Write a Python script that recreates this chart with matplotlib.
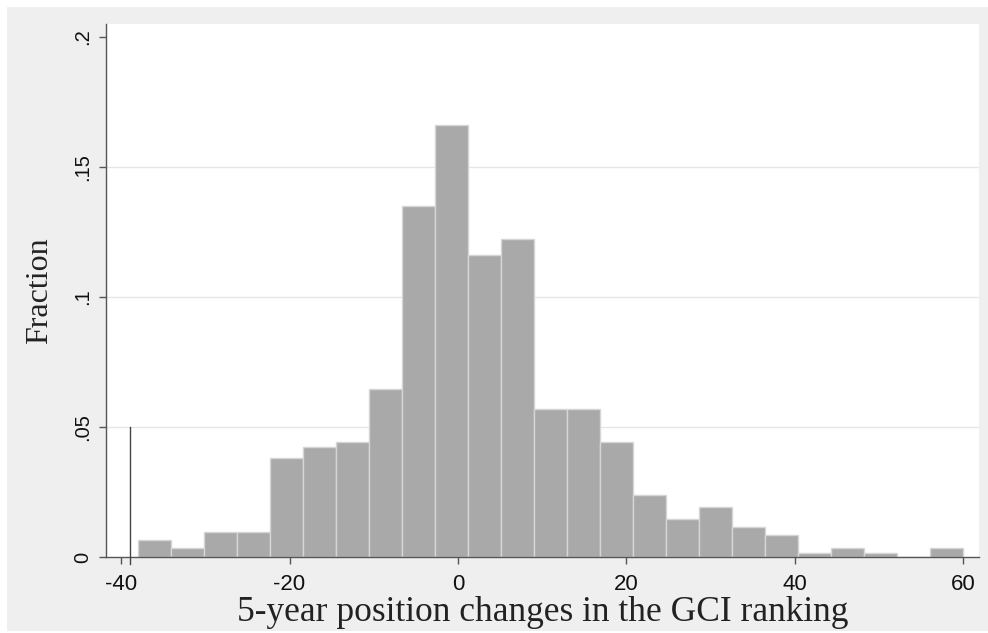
import matplotlib
matplotlib.use("Agg")
import matplotlib.pyplot as plt
import matplotlib.patches as patches
import numpy as np

plt.rcParams['axes.unicode_minus'] = False

# histogram data
bin_edges = np.linspace(-38, 60, 26)
fractions = [0.0065, 0.0035, 0.0097, 0.0097, 0.0380, 0.0424, 0.0443, 0.0648,
             0.1350, 0.1662, 0.1162, 0.1224, 0.0568, 0.0568, 0.0443, 0.0238,
             0.0145, 0.0193, 0.0114, 0.0085, 0.0017, 0.0036, 0.0017, 0.0, 0.0036]
x_ticks = [-40, -20, 0, 20, 40, 60]
y_ticks = [0, 0.05, 0.1, 0.15, 0.2]
y_labels = ['0', '.05', '.1', '.15', '.2']
grid_y = [0.05, 0.1, 0.15]
marker_x = -38.9
marker_top = 0.05

W, H = 988, 633
fig = plt.figure(figsize=(W / 100, H / 100), dpi=100)
fig.patch.set_facecolor('white')
# Stata-style grey graph region
fig.patches.append(patches.Rectangle((7 / W, 2 / H), (W - 7) / W, (H - 9) / H,
                                     transform=fig.transFigure, facecolor='#efefef',
                                     edgecolor='none', zorder=-5))

ax = fig.add_axes([106 / W, (H - 557) / H, (979 - 106) / W, (557 - 24) / H])
ax.set_zorder(2)
ax.set_facecolor('white')

for g in grid_y:
    ax.axhline(g, color='#e6e6e6', lw=1, zorder=1)

ax.bar(bin_edges[:-1], fractions, width=np.diff(bin_edges), align='edge',
       color='#a9a9a9', edgecolor='#d6d6d6', linewidth=1, zorder=2)

ax.plot([marker_x, marker_x], [-0.0025, marker_top], color='#444444', lw=1,
        clip_on=False, zorder=3)

ax.set_xlim(-41.8, 61.9)
ax.set_ylim(0, 0.205)
ax.set_xticks(x_ticks)
ax.set_yticks(y_ticks)
ax.set_yticklabels(y_labels, rotation=90, va='center')

for s in ['top', 'right']:
    ax.spines[s].set_visible(False)
for s in ['left', 'bottom']:
    ax.spines[s].set_color('#555555')
    ax.spines[s].set_linewidth(1)

ax.tick_params(axis='both', direction='out', length=5, width=1, color='#555555',
               labelcolor='#111111')
ax.tick_params(axis='x', labelsize=16, pad=7)
ax.tick_params(axis='y', labelsize=14.5, pad=5)
for lab in ax.get_xticklabels() + ax.get_yticklabels():
    lab.set_fontfamily('Liberation Sans')

ax.set_xlabel('5-year position changes in the GCI ranking', fontsize=25.5,
              fontfamily='Liberation Serif', color='#222222', labelpad=1)
ax.set_ylabel('Fraction', fontsize=23, fontfamily='Liberation Serif',
              color='#222222', labelpad=14)

fig.savefig('out.png', dpi=100)
